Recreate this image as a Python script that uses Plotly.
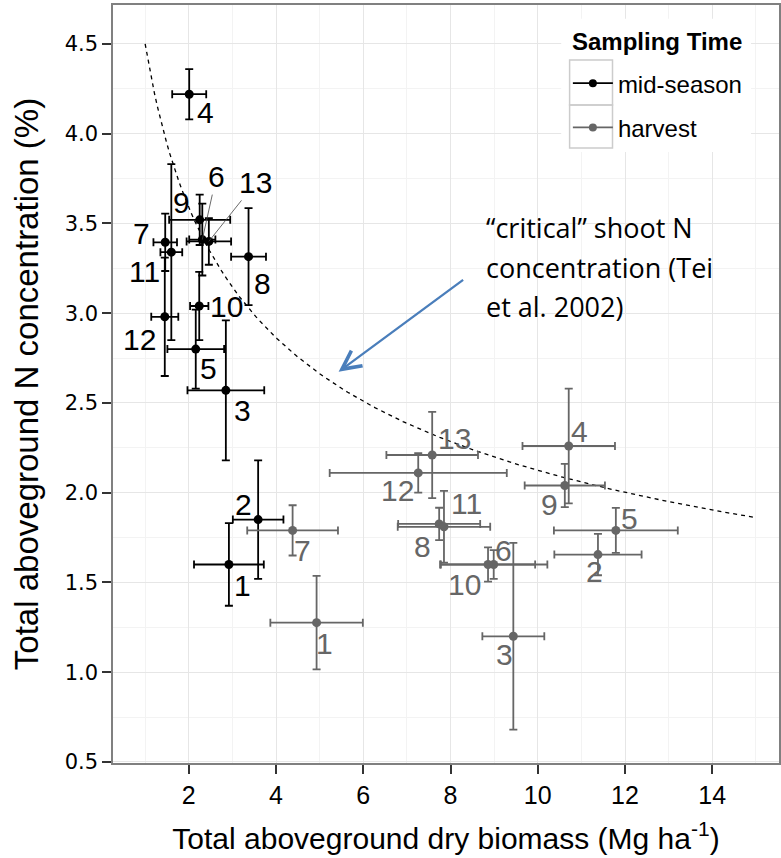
import plotly.graph_objects as go

# ---- data -------------------------------------------------------------
# mid-season sampling (sample number, biomass Mg/ha, N %, with SE)
mid_ids = ["1", "2", "3", "4", "5", "6", "7", "8", "9", "10", "11", "12", "13"]
mid_biomass = [2.92, 3.59, 2.85, 2.01, 2.16, 2.31, 1.46, 3.37, 2.25, 2.24, 1.60, 1.45, 2.46]
mid_biomass_se = [0.80, 0.58, 0.88, 0.39, 0.65, 0.30, 0.27, 0.40, 0.70, 0.21, 0.25, 0.31, 0.51]
mid_n = [1.60, 1.85, 2.57, 4.22, 2.80, 3.41, 3.395, 3.315, 3.52, 3.04, 3.34, 2.98, 3.40]
mid_n_se = [0.23, 0.33, 0.39, 0.14, 0.22, 0.20, 0.16, 0.27, 0.14, 0.19, 0.49, 0.33, 0.13]

# harvest sampling
harv_ids = ["1", "2", "3", "4", "5", "6", "7", "8", "9", "10", "11", "12", "13"]
harv_biomass = [4.93, 11.38, 9.44, 10.71, 11.79, 8.99, 4.38, 7.74, 10.62, 8.86, 7.85, 7.26, 7.58]
harv_biomass_se = [1.06, 1.00, 0.71, 1.06, 1.42, 1.23, 1.04, 0.94, 0.92, 1.08, 1.06, 2.03, 1.05]
harv_n = [1.276, 1.655, 1.20, 2.26, 1.79, 1.60, 1.79, 1.826, 2.04, 1.60, 1.81, 2.11, 2.21]
harv_n_se = [0.26, 0.115, 0.52, 0.32, 0.125, 0.08, 0.14, 0.09, 0.12, 0.095, 0.20, 0.11, 0.24]

# critical N dilution curve (Tei et al. 2002): Nc = a * W^-b
CRIT_A = 4.5
CRIT_B = 0.326
CRIT_W_START, CRIT_W_END, CRIT_STEPS = 1.0, 15.0, 200

x_tick_vals = [2, 4, 6, 8, 10, 12, 14]
y_tick_vals = [0.5, 1.0, 1.5, 2.0, 2.5, 3.0, 3.5, 4.0, 4.5]
y_tick_text = ["0.5", "1.0", "1.5", "2.0", "2.5", "3.0", "3.5", "4.0", "4.5"]

# ---- styling ------------------------------------------------------------
MID_COLOR = "#000000"
HARV_COLOR = "#666666"
LABEL_FONT = "Liberation Sans, Arial, sans-serif"

# label offsets in pixels (dx right, dy down) from each point
mid_offsets = {
    "1": (14, 21), "2": (-15, -15), "3": (17, 20), "4": (16, 18), "5": (13, 19),
    "6": (14, -63), "7": (-24, -9), "8": (14, 27), "9": (-18, -17), "10": (27, 0),
    "11": (-27, 19), "12": (-25, 23), "13": (47, -59),
}
mid_leader = {"6", "13"}
harv_offsets = {
    "1": (8, 21), "2": (-3, 17), "3": (-9, 18), "4": (11, -15), "5": (14, -12),
    "6": (10, -14), "7": (10, 20), "8": (-17, 23), "9": (-15, 19), "10": (-24, 20),
    "11": (23, -23), "12": (-21, 18), "13": (22, -16),
}

fig = go.Figure()

# critical curve
crit_w = [CRIT_W_START + (CRIT_W_END - CRIT_W_START) * i / (CRIT_STEPS - 1) for i in range(CRIT_STEPS)]
crit_n = [CRIT_A * w ** (-CRIT_B) for w in crit_w]
fig.add_trace(go.Scatter(
    x=crit_w, y=crit_n, mode="lines",
    line=dict(color="#000000", width=1.3, dash="4px,4px"),
    showlegend=False, hoverinfo="skip",
))


def add_group(xs, xse, ys, yse, color, name):
    fig.add_trace(go.Scatter(
        x=xs, y=ys, mode="markers",
        marker=dict(color=color, size=9),
        error_x=dict(type="data", array=xse, color=color, thickness=1.8, width=4),
        error_y=dict(type="data", array=yse, color=color, thickness=1.8, width=4),
        showlegend=False, name=name,
    ))
    # legend entry (line + dot key)
    fig.add_trace(go.Scatter(
        x=[None], y=[None], mode="lines+markers", name=name, legendgroup=name,
        marker=dict(color=color, size=8), line=dict(color=color, width=1.8),
    ))


add_group(mid_biomass, mid_biomass_se, mid_n, mid_n_se, MID_COLOR, "mid-season")
add_group(harv_biomass, harv_biomass_se, harv_n, harv_n_se, HARV_COLOR, "harvest")

annotations = []


def add_labels(ids, xs, ys, offsets, color, leaders=()):
    for sid, x, y in zip(ids, xs, ys):
        dx, dy = offsets[sid]
        if sid in leaders:
            annotations.append(dict(
                x=x, y=y, text=sid, showarrow=True, ax=dx, ay=dy,
                arrowhead=0, arrowwidth=0.8, arrowcolor="#444444", standoff=0,
                font=dict(family=LABEL_FONT, size=30, color=color),
            ))
        else:
            annotations.append(dict(
                x=x, y=y, text=sid, showarrow=False, xshift=dx, yshift=-dy,
                font=dict(family=LABEL_FONT, size=30, color=color),
            ))


add_labels(mid_ids, mid_biomass, mid_n, mid_offsets, MID_COLOR, mid_leader)
add_labels(harv_ids, harv_biomass, harv_n, harv_offsets, HARV_COLOR)

# callout for the critical curve
annotations.append(dict(
    x=5.435, y=2.674, ax=126, ay=-93, text="", showarrow=True,
    arrowhead=5, arrowsize=1.6, arrowwidth=2.3, arrowcolor="#4a7ebb", standoff=0,
))
callout_lines = ["\u201ccritical\u201d shoot N", "concentration (Tei", "et al. 2002)"]
for i, line in enumerate(callout_lines):
    annotations.append(dict(
        x=8.77, y=3.475 - i * 0.218, xanchor="left", yanchor="middle",
        text=line, showarrow=False,
        font=dict(family="Open Sans, sans-serif", size=27, color="#000000"),
    ))

# legend title
annotations.append(dict(
    xref="paper", yref="paper", x=0.6856, y=0.9514, xanchor="left", yanchor="middle",
    text="<b>Sampling Time</b>", showarrow=False,
    font=dict(family=LABEL_FONT, size=24, color="#000000"),
))

# legend background and key boxes (paper coordinates)
shapes = [
    dict(type="rect", xref="paper", yref="paper", x0=0.673, x1=0.958, y0=0.806, y1=0.982,
         fillcolor="white", line=dict(width=0), layer="above"),
    dict(type="rect", xref="paper", yref="paper", x0=0.6856, x1=0.750, y0=0.868, y1=0.9274,
         fillcolor="rgba(0,0,0,0)", line=dict(color="#cccccc", width=1.5), layer="above"),
    dict(type="rect", xref="paper", yref="paper", x0=0.6856, x1=0.750, y0=0.8113, y1=0.868,
         fillcolor="rgba(0,0,0,0)", line=dict(color="#cccccc", width=1.5), layer="above"),
]

fig.update_layout(
    width=781, height=858,
    margin=dict(l=113, r=0, t=5, b=95),
    paper_bgcolor="white", plot_bgcolor="white",
    annotations=annotations,
    shapes=shapes,
    legend=dict(
        font=dict(family=LABEL_FONT, size=24, color="#000000"),
        x=0.683, y=0.926, xanchor="left", yanchor="top",
        bgcolor="rgba(0,0,0,0)", borderwidth=0,
        itemwidth=40, tracegroupgap=10,
    ),
    xaxis=dict(
        range=[0.263, 15.53], tickvals=x_tick_vals,
        ticks="outside", ticklen=9, tickwidth=2, tickcolor="#333333",
        tickfont=dict(family=LABEL_FONT, size=25, color="#000000"),
        showline=True, linecolor="#808080", linewidth=1.5, mirror=True,
        showgrid=True, gridcolor="#e6e6e6", gridwidth=1,
        minor=dict(dtick=1, showgrid=True, gridcolor="#f3f3f3", gridwidth=1),
        zeroline=False,
        title=dict(text="Total aboveground dry biomass (Mg ha<sup>-1</sup>)",
                   font=dict(family=LABEL_FONT, size=30, color="#000000"), standoff=20),
    ),
    yaxis=dict(
        range=[0.494, 4.717], tickvals=y_tick_vals, ticktext=y_tick_text,
        ticks="outside", ticklen=9, tickwidth=2, tickcolor="#333333",
        tickfont=dict(family="DejaVu Sans, sans-serif", size=21, color="#000000"),
        showline=True, linecolor="#808080", linewidth=1.5, mirror=True,
        showgrid=True, gridcolor="#e6e6e6", gridwidth=1,
        minor=dict(dtick=0.25, showgrid=True, gridcolor="#f3f3f3", gridwidth=1),
        zeroline=False,
        title=dict(text="Total aboveground N concentration (%)",
                   font=dict(family=LABEL_FONT, size=33, color="#000000"), standoff=16),
    ),
)

fig.write_html("out.html")
